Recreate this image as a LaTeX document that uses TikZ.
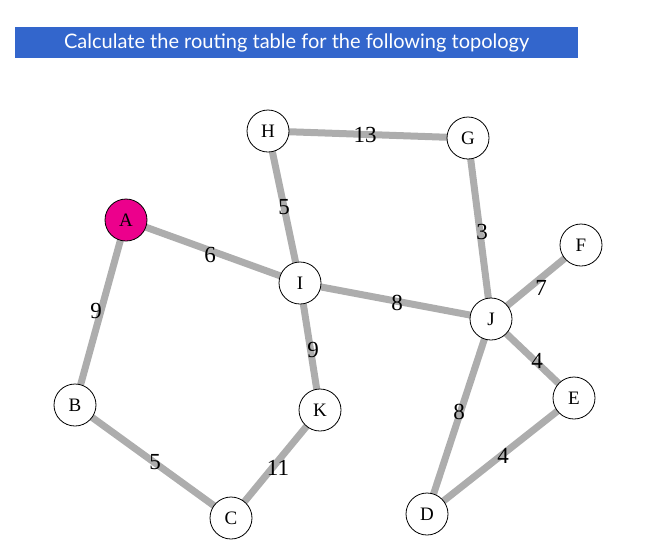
\documentclass[tikz,border=0pt]{standalone}
\usepackage{fontspec}
\setmainfont{Liberation Serif}
\newfontfamily\titlefont{Lato}
\definecolor{titleblue}{RGB}{51,102,204}
\begin{document}
\begin{tikzpicture}[x=1pt,y=-1pt,
  nd/.style={circle,draw=black,line width=0.8pt,fill=white,minimum size=42pt,inner sep=0pt,font=\fontsize{19}{19}\selectfont},
  ed/.style={draw=black!32,line width=7pt},
  lb/.style={font=\fontsize{23}{23}\selectfont,inner sep=0pt}]
\useasboundingbox (0,0) rectangle (656,558);
\node[fill=titleblue,text=white,anchor=north west,minimum width=563pt,minimum height=31pt,inner sep=0pt,font=\titlefont\fontsize{20}{20}\selectfont] (title) at (15,27) {Calculate the routing table for the following topology};
\coordinate (pH) at (268,131); \coordinate (pG) at (468,138);
\coordinate (pA) at (126,220); \coordinate (pF) at (581,245);
\coordinate (pI) at (300,283); \coordinate (pJ) at (491,319);
\coordinate (pB) at (75,405); \coordinate (pK) at (320,410);
\coordinate (pE) at (574,398); \coordinate (pC) at (231,518);
\coordinate (pD) at (427,514);
\draw[ed] (pH)--(pG); \draw[ed] (pH)--(pI); \draw[ed] (pA)--(pI);
\draw[ed] (pA)--(pB); \draw[ed] (pI)--(pJ); \draw[ed] (pI)--(pK);
\draw[ed] (pG)--(pJ); \draw[ed] (pJ)--(pF); \draw[ed] (pJ)--(pE);
\draw[ed] (pJ)--(pD); \draw[ed] (pD)--(pE); \draw[ed] (pB)--(pC);
\draw[ed] (pK)--(pC);
\node[nd] (H) at (pH) {H}; \node[nd] (G) at (pG) {G};
\node[nd,fill=magenta] (A) at (pA) {A}; \node[nd] (F) at (pF) {F};
\node[nd] (I) at (pI) {I}; \node[nd] (J) at (pJ) {J};
\node[nd] (B) at (pB) {B}; \node[nd] (K) at (pK) {K};
\node[nd] (E) at (pE) {E}; \node[nd] (C) at (pC) {C};
\node[nd] (D) at (pD) {D};
\node[lb] (l1) at (365,135) {13};
\node[lb] (l2) at (284,207) {5};
\node[lb] (l3) at (210,255) {6};
\node[lb] (l4) at (482,232) {3};
\node[lb] (l5) at (541,288) {7};
\node[lb] (l6) at (397,303) {8};
\node[lb] (l7) at (96,311) {9};
\node[lb] (l8) at (313,350) {9};
\node[lb] (l9) at (537,361) {4};
\node[lb] (l10) at (459,412) {8};
\node[lb] (l11) at (155,462) {5};
\node[lb] (l12) at (278,468) {11};
\node[lb] (l13) at (503,456) {4};
\end{tikzpicture}
\end{document}
